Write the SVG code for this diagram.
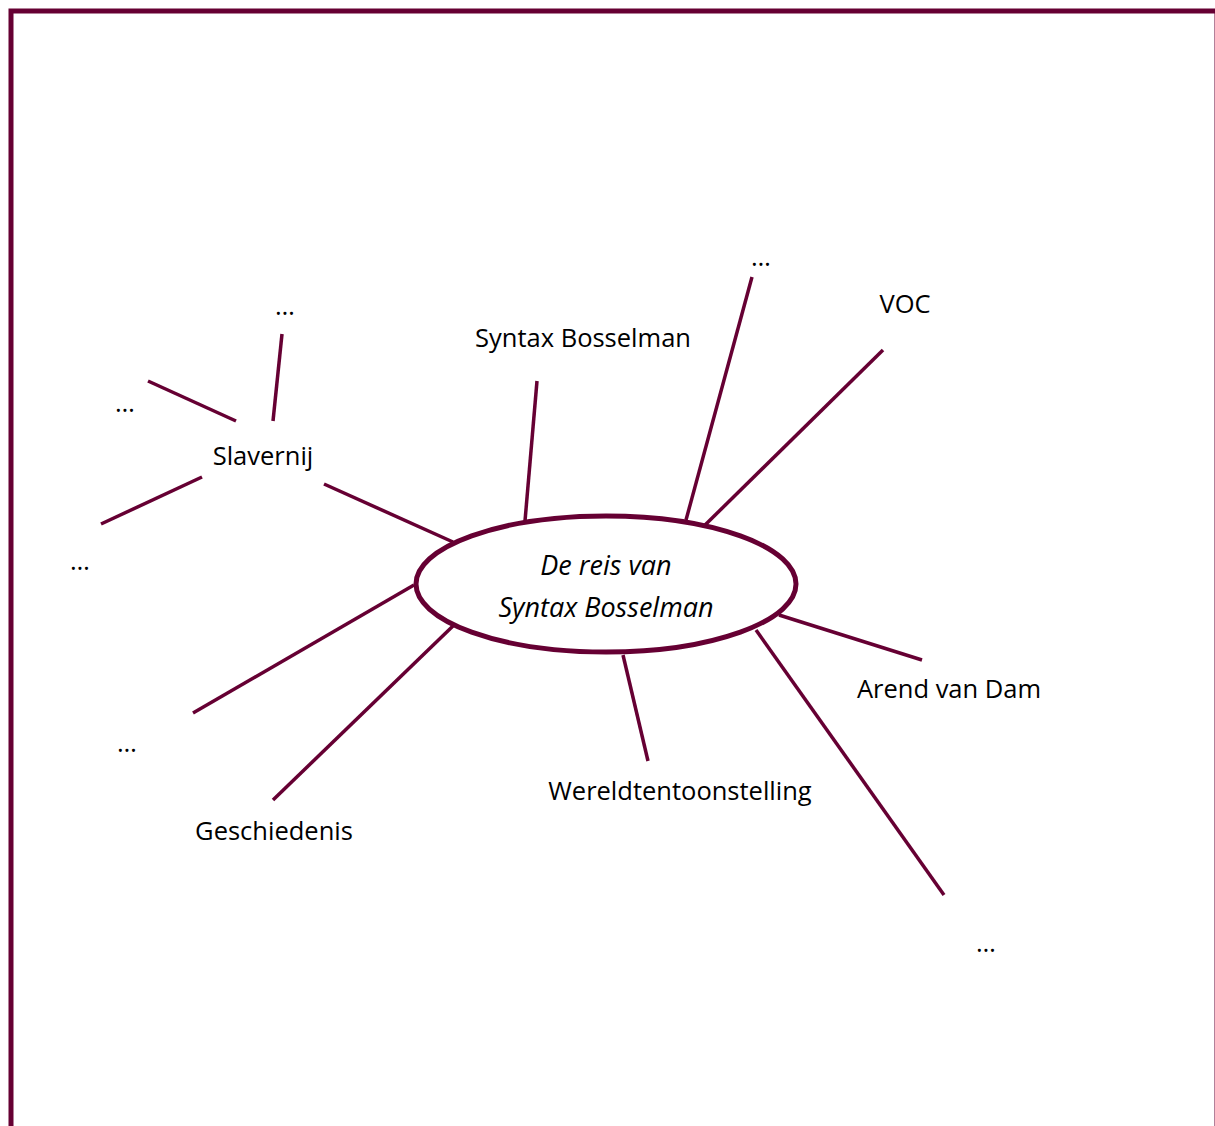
<svg xmlns="http://www.w3.org/2000/svg" width="1215" height="1126" viewBox="0 0 1215 1126">
<style>
.c{stroke:#660033;stroke-width:3.5;fill:none}
.t{font-family:"Open Sans","Liberation Sans",sans-serif;font-size:25.5px;fill:#000;text-anchor:middle}
.i{font-style:italic;font-size:27px}
</style>
<rect width="1215" height="1126" fill="#fff"/>
<rect id="frame" x="11" y="11" width="1206" height="1200" fill="none" stroke="#660033" stroke-width="5"/>
<g id="connectors">
<line class="c" x1="537" y1="381" x2="525" y2="521"/>
<line class="c" x1="752" y1="277" x2="686" y2="520"/>
<line class="c" x1="883" y1="350" x2="703" y2="527"/>
<line class="c" x1="324" y1="484" x2="453" y2="542"/>
<line class="c" x1="282" y1="334" x2="273" y2="421"/>
<line class="c" x1="148" y1="381" x2="236" y2="421"/>
<line class="c" x1="202" y1="477" x2="101" y2="524"/>
<line class="c" x1="414" y1="585" x2="193" y2="713"/>
<line class="c" x1="454" y1="625" x2="273" y2="800"/>
<line class="c" x1="623" y1="655" x2="648" y2="761"/>
<line class="c" x1="779" y1="615" x2="922" y2="660"/>
<line class="c" x1="756" y1="630" x2="944" y2="895"/>
</g>
<g id="center">
<ellipse cx="606" cy="584" rx="190" ry="68" fill="#fff" stroke="#660033" stroke-width="5"/>
<text class="t i" x="606" y="575">De reis van</text>
<text class="t i" x="606" y="617">Syntax Bosselman</text>
</g>
<g id="n-syntax"><text class="t" x="583" y="347">Syntax Bosselman</text></g>
<g id="n-top-dots"><text class="t" x="761" y="266">…</text></g>
<g id="n-voc"><text class="t" x="905" y="313">VOC</text></g>
<g id="n-slavernij"><text class="t" x="263" y="465">Slavernij</text></g>
<g id="n-slav-top"><text class="t" x="285" y="315">…</text></g>
<g id="n-slav-left"><text class="t" x="125" y="412">…</text></g>
<g id="n-slav-low"><text class="t" x="80" y="570">…</text></g>
<g id="n-left-dots"><text class="t" x="127" y="752">…</text></g>
<g id="n-geschiedenis"><text class="t" x="274" y="840">Geschiedenis</text></g>
<g id="n-wereld"><text class="t" x="680" y="800">Wereldtentoonstelling</text></g>
<g id="n-arend"><text class="t" x="949" y="698">Arend van Dam</text></g>
<g id="n-br-dots"><text class="t" x="986" y="952">…</text></g>
</svg>
